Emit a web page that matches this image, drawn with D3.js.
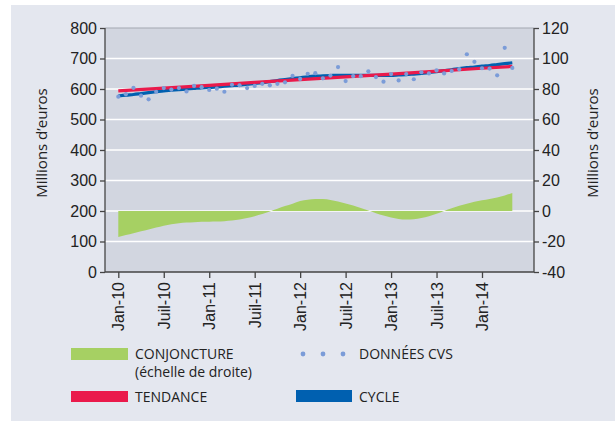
<!DOCTYPE html>
<html>
<head>
<meta charset="utf-8">
<script src="https://cdn.jsdelivr.net/npm/d3@7"></script>
<style>
  body { margin: 0; background: #fff; }
  svg { display: block; font-family: "Open Sans", sans-serif; }
</style>
</head>
<body>
<svg id="chart" width="615" height="421"></svg>
<script>
'use strict';

// months counted from Jan-10 (0) to May-14 (52)
var tickMonths = [0, 6, 12, 18, 24, 30, 36, 42, 48];
var tickLabels = ["Jan-10", "Juil-10", "Jan-11", "Juil-11", "Jan-12", "Juil-12", "Jan-13", "Juil-13", "Jan-14"];

// DONNÉES CVS, millions d'euros (left scale)
var donnees = [575, 583, 604, 578, 566, 591, 603, 598, 603, 592,
	610, 606, 597, 601, 591, 614, 612, 603, 610, 617,
	612, 617, 622, 643, 633, 650, 652, 635, 644, 672,
	626, 642, 642, 658, 639, 624, 649, 628, 649, 632,
	655, 651, 661, 651, 659, 665, 714, 689, 668, 667,
	645, 735, 669];

// TENDANCE (left scale), read at a few months
var tendanceMonths = [0, 12, 24, 36, 48, 52];
var tendance = [594, 612, 631, 649, 668, 674];

// CYCLE (left scale)
var cycle = [577, 580, 582, 585, 588, 591, 594, 596, 598, 600,
	602, 604, 605, 607, 609, 611, 613, 616, 618, 621,
	624, 628, 631, 634, 637, 640, 642, 643, 644, 645,
	645, 645, 645, 645, 645, 645, 645, 646, 647, 649,
	651, 654, 657, 660, 663, 667, 670, 672, 675, 677,
	680, 683, 686];

// CONJONCTURE (right scale)
var conjoncture = [-17, -15.8, -14.6, -13.3, -12.1, -10.8, -9.6, -8.7, -8.1, -7.6,
	-7.3, -7.1, -7.0, -6.9, -6.7, -6.3, -5.6, -4.6, -3.4, -2.0,
	-0.3, 1.5, 3.2, 4.8, 6.5, 7.4, 7.9, 7.8, 7.2, 6.2,
	5.0, 3.6, 2.0, 0.3, -1.4, -2.9, -4.2, -5.2, -5.6, -5.4,
	-4.6, -3.4, -1.8, 0.0, 1.8, 3.4, 4.8, 6.0, 7.0, 7.9,
	8.9, 10.2, 11.8];

var leftTicks = [0, 100, 200, 300, 400, 500, 600, 700, 800];
var rightTicks = [-40, -20, 0, 20, 40, 60, 80, 100, 120];

var svg = d3.select('#chart');
var L = 105, R = 534, T = 28, B = 272;

svg.append('rect').attr('x', 11).attr('y', 5).attr('width', 604).attr('height', 416)
	.attr('fill', '#e4e7ef');
svg.append('rect').attr('x', L).attr('y', T).attr('width', R - L).attr('height', B - T)
	.attr('fill', '#d2d6e0');

var x = d3.scaleLinear().domain([0, 48]).range([118.3, 482]);
var yL = d3.scaleLinear().domain([0, 800]).range([B, T]);
var yR = d3.scaleLinear().domain([-40, 120]).range([B, T]);

// grid
svg.append('g').selectAll('line').data(leftTicks.slice(1, -1)).join('line')
	.attr('x1', L).attr('x2', R)
	.attr('y1', function (d) { return yL(d); }).attr('y2', function (d) { return yL(d); })
	.attr('stroke', '#fff').attr('stroke-width', 1.5);
svg.append('line').attr('x1', L).attr('x2', R).attr('y1', T).attr('y2', T)
	.attr('stroke', '#a3a7b0').attr('stroke-width', 1);

// conjoncture area
var area = d3.area()
	.x(function (d, i) { return x(i); })
	.y0(yR(0))
	.y1(function (d) { return yR(d); })
	.curve(d3.curveMonotoneX);
svg.append('path').datum(conjoncture).attr('d', area).attr('fill', '#a6d063');

// cycle and tendance
var line = d3.line().curve(d3.curveMonotoneX);
svg.append('path')
	.attr('d', line(cycle.map(function (d, i) { return [x(i), yL(d)]; })))
	.attr('fill', 'none').attr('stroke', '#0060b0').attr('stroke-width', 3.2);
svg.append('path')
	.attr('d', line(tendance.map(function (d, i) { return [x(tendanceMonths[i]), yL(d)]; })))
	.attr('fill', 'none').attr('stroke', '#ea1a4b').attr('stroke-width', 3.2);

// données cvs
svg.append('g').selectAll('circle').data(donnees).join('circle')
	.attr('cx', function (d, i) { return x(i); })
	.attr('cy', function (d) { return yL(d); })
	.attr('r', 2.1)
	.attr('fill', '#7b9cd8');

// axes
var axisL = d3.axisLeft(yL).tickValues(leftTicks).tickSize(5).tickPadding(3);
var axisR = d3.axisRight(yR).tickValues(rightTicks).tickSize(5).tickPadding(3)
	.tickFormat(function (d) { return String(d); });
var axisB = d3.axisBottom(x).tickValues(tickMonths).tickSize(6)
	.tickFormat(function (d, i) { return tickLabels[i]; });

function styleAxis(g) {
	g.select('.domain').attr('stroke', '#444').attr('stroke-width', 1.3);
	g.selectAll('.tick line').attr('stroke', '#444').attr('stroke-width', 1.3);
	g.selectAll('.tick text').attr('fill', '#222').attr('font-size', 16);
}

svg.append('g').attr('transform', 'translate(' + L + ',0)').call(axisL).call(styleAxis)
	.select('.domain').attr('d', 'M0,' + T + 'V' + B);
svg.append('g').attr('transform', 'translate(' + R + ',0)').call(axisR).call(styleAxis)
	.select('.domain').attr('d', 'M0,' + T + 'V' + B);
var gB = svg.append('g').attr('transform', 'translate(0,' + B + ')').call(axisB).call(styleAxis);
gB.select('.domain').attr('d', 'M' + L + ',0H' + R);
gB.selectAll('.tick text')
	.attr('text-anchor', 'end')
	.attr('transform', 'rotate(-90)')
	.attr('x', -10).attr('y', 0).attr('dy', '0.35em');

// axis titles
svg.append('text').attr('transform', 'translate(47,143) rotate(-90)')
	.attr('text-anchor', 'middle').attr('font-size', 15).attr('fill', '#222')
	.text('Millions d’euros');
svg.append('text').attr('transform', 'translate(598,143) rotate(-90)')
	.attr('text-anchor', 'middle').attr('font-size', 15).attr('fill', '#222')
	.text('Millions d’euros');

// legend
var lg = svg.append('g').attr('font-size', 14).attr('fill', '#222');
lg.append('rect').attr('x', 71).attr('y', 348).attr('width', 57).attr('height', 12).attr('fill', '#a6d063');
lg.append('text').attr('x', 135).attr('y', 359).text('CONJONCTURE');
lg.append('text').attr('x', 135).attr('y', 377).text('(échelle de droite)');
lg.append('rect').attr('x', 71).attr('y', 391).attr('width', 57).attr('height', 11).attr('fill', '#ea1a4b');
lg.append('text').attr('x', 135).attr('y', 402).text('TENDANCE');
lg.selectAll('circle').data([303, 323, 343]).join('circle')
	.attr('cx', function (d) { return d; }).attr('cy', 354).attr('r', 2.4).attr('fill', '#7b9cd8');
lg.append('text').attr('x', 359).attr('y', 359).text('DONNÉES CVS');
lg.append('rect').attr('x', 296).attr('y', 390).attr('width', 56).attr('height', 12).attr('fill', '#0060b0');
lg.append('text').attr('x', 359).attr('y', 402).text('CYCLE');
</script>
</body>
</html>
